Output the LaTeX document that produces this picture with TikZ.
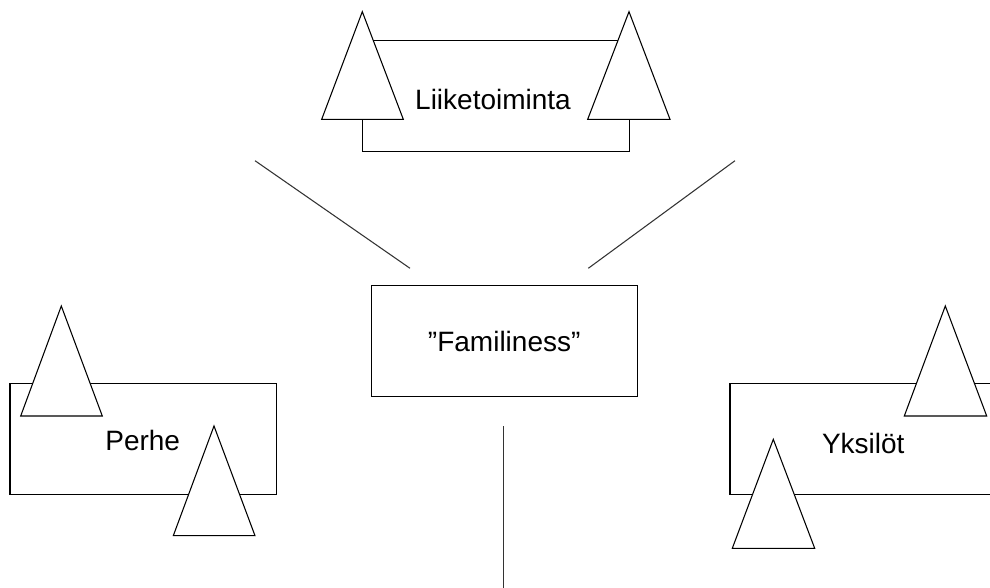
\documentclass[tikz,border=0pt]{standalone}
\usepackage{fontspec}
\setmainfont{Liberation Sans}
\tikzset{
  shape line/.style={draw=black, line width=0.8pt, line join=miter},
  tree/.style={shape line, fill=white},
  frame/.style={shape line, fill=white, rectangle, inner sep=0pt},
  label text/.style={font=\fontsize{21}{24}\selectfont, inner sep=0pt, text=black},
  link/.style={draw=black!80, line width=0.8pt}
}
\begin{document}
\begin{tikzpicture}[x=0.75pt, y=-0.75pt]
\useasboundingbox (0,0) rectangle (990,588);
\clip (0,0) rectangle (990,588);
% top: Liiketoiminta
\draw[frame] (362.7,40.3) rectangle (629.3,151.7);
\draw[tree] (362.3,11.7) -- (403.3,119.3) -- (321.7,119.3) -- cycle;
\draw[tree] (629,11.7) -- (670,119.3) -- (587.7,119.3) -- cycle;
\node[label text] (liike) at (493,99) {Liiketoiminta};
% centre
\node[frame, minimum width=199.7pt, minimum height=83.25pt, label text] (fam) at (504.2,341.2) {”Familiness”};
% left: Perhe
\draw[frame] (10,383.3) rectangle (276.7,494.3);
\draw[tree] (61.3,306) -- (102.3,416) -- (20.7,416) -- cycle;
\node[label text] (perhe) at (142.7,440) {Perhe};
\draw[tree] (214,426) -- (255,535.7) -- (173.3,535.7) -- cycle;
% right: Yksilot
\draw[frame] (730,383.7) rectangle (1010,494.3);
\draw[tree] (945.3,306) -- (986.7,416) -- (904.3,416) -- cycle;
\node[label text] (yks) at (863.3,443.3) {Yksilöt};
\draw[tree] (773.3,439.3) -- (814.7,548.3) -- (732.3,548.3) -- cycle;
% connectors
\coordinate (l1a) at (255,160.7);
\coordinate (l1b) at (410,268.3);
\coordinate (l2a) at (735,160.7);
\coordinate (l2b) at (588.3,268.3);
\coordinate (l3a) at (503.3,426);
\coordinate (l3b) at (503.3,590);
\draw[link] (l1a) -- (l1b);
\draw[link] (l2a) -- (l2b);
\draw[link] (l3a) -- (l3b);
\end{tikzpicture}
\end{document}
